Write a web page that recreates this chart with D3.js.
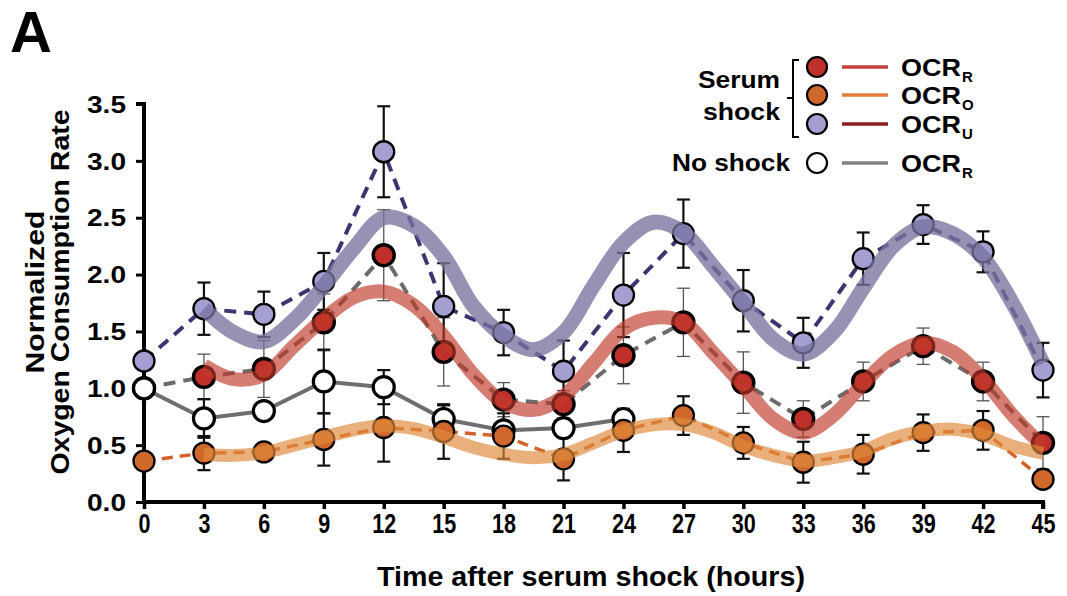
<!DOCTYPE html>
<html>
<head>
<meta charset="utf-8">
<script src="https://cdn.jsdelivr.net/npm/d3@7"></script>
<style>
  html, body { margin: 0; padding: 0; background: #fff; }
  svg { display: block; }
  text { font-family: "Liberation Sans", Arial, sans-serif; font-weight: bold; fill: #000; }
</style>
</head>
<body>
<svg id="chart" width="1067" height="596"></svg>
<script>
// ---------- data ----------
const hours = [0, 3, 6, 9, 12, 15, 18, 21, 24, 27, 30, 33, 36, 39, 42, 45];
const xTickLabels = ["0","3","6","9","12","15","18","21","24","27","30","33","36","39","42","45"];
const yTickValues = [0, 0.5, 1.0, 1.5, 2.0, 2.5, 3.0, 3.5];

// Serum shock OCR_R (red)
const ocrR    = [1.00, 1.10, 1.17, 1.58, 2.17, 1.32, 0.90, 0.86, 1.29, 1.58, 1.05, 0.73, 1.06, 1.37, 1.06, 0.52];
const ocrRErr = [0.00, 0.20, 0.25, 0.25, 0.40, 0.30, 0.15, 0.12, 0.25, 0.30, 0.27, 0.16, 0.17, 0.16, 0.17, 0.23];
// Serum shock OCR_O (orange)
const ocrO    = [0.36, 0.43, 0.44, 0.55, 0.655, 0.62, 0.58, 0.38, 0.63, 0.76, 0.52, 0.35, 0.42, 0.61, 0.63, 0.20];
const ocrOErr = [0.00, 0.15, 0.07, 0.23, 0.30, 0.24, 0.20, 0.19, 0.19, 0.17, 0.14, 0.18, 0.17, 0.16, 0.17, 0.00];
// Serum shock OCR_U (purple)
const ocrU    = [1.24, 1.70, 1.65, 1.94, 3.08, 1.72, 1.49, 1.15, 1.82, 2.36, 1.77, 1.40, 2.14, 2.44, 2.20, 1.16];
const ocrUErr = [0.00, 0.23, 0.20, 0.25, 0.40, 0.38, 0.20, 0.27, 0.37, 0.30, 0.27, 0.22, 0.23, 0.17, 0.18, 0.24];
// No shock OCR_R (white)
const noShockHours = [0, 3, 6, 9, 12, 15, 18, 21, 24];
const noShock      = [1.00, 0.735, 0.80, 1.06, 1.01, 0.73, 0.63, 0.65, 0.73];
const noShockErr   = [0.00, 0.17, 0.05, 0.28, 0.15, 0.12, 0.05, 0.00, 0.08];

// Fitted curves
const fitHours = [3, 4.5, 6, 7.5, 9, 10.5, 12, 13.5, 15, 16.5, 18, 19.5, 21, 22.5, 24, 25.5, 27, 28.5, 30, 31.5, 33, 34.5, 36, 37.5, 39, 40.5, 42, 43.5, 45];
const fitU = [1.70, 1.49, 1.41, 1.60, 1.90, 2.23, 2.50, 2.43, 2.16, 1.72, 1.46, 1.34, 1.49, 1.90, 2.28, 2.46, 2.37, 2.07, 1.75, 1.43, 1.30, 1.49, 1.88, 2.25, 2.42, 2.36, 2.15, 1.74, 1.22];
const fitR = [1.20, 1.08, 1.12, 1.37, 1.61, 1.80, 1.85, 1.73, 1.46, 1.12, 0.875, 0.81, 0.93, 1.22, 1.52, 1.62, 1.58, 1.31, 1.02, 0.73, 0.61, 0.76, 1.04, 1.29, 1.40, 1.32, 1.08, 0.76, 0.49];
const fitO = [0.42, 0.41, 0.435, 0.50, 0.57, 0.635, 0.67, 0.645, 0.57, 0.48, 0.42, 0.39, 0.42, 0.52, 0.625, 0.68, 0.68, 0.61, 0.49, 0.41, 0.36, 0.39, 0.45, 0.56, 0.62, 0.64, 0.59, 0.49, 0.43];

// ---------- layout ----------
const svg = d3.select("#chart");
const x = d3.scaleLinear().domain([0, 45]).range([144, 1043]);
const y = d3.scaleLinear().domain([0, 3.5]).range([502, 104]);
const FONT = '"Liberation Sans", Arial, sans-serif';

// Panel letter
svg.append("text").attr("x", 10).attr("y", 52).attr("font-size", 58).text("A");

// Axes
const yAxis = d3.axisLeft(y).tickValues(yTickValues).tickFormat(d3.format(".1f")).tickSize(8).tickPadding(10);
const gy = svg.append("g").attr("transform", `translate(${x(0)},0)`).call(yAxis);
gy.select(".domain").attr("stroke", "#000").attr("stroke-width", 4).attr("d", `M-8,${y(3.5)}H0V${y(0)+2}`);
gy.selectAll(".tick line").attr("stroke", "#000").attr("stroke-width", 3);
gy.selectAll(".tick text").attr("font-size", 23).attr("dy", "0.36em")
  .attr("textLength", 39).attr("lengthAdjust", "spacingAndGlyphs")
  .style("font-family", FONT).style("font-weight", "bold");

const xAxis = d3.axisBottom(x).tickValues(hours).tickFormat((d, i) => xTickLabels[i]).tickSize(7).tickPadding(8);
const gx = svg.append("g").attr("transform", `translate(0,${y(0)})`).call(xAxis);
gx.select(".domain").attr("stroke", "#000").attr("stroke-width", 4).attr("d", `M${x(0)-2},0H${x(45)}V7`);
gx.selectAll(".tick line").attr("stroke", "#000").attr("stroke-width", 3.5);
gx.selectAll(".tick text").attr("font-size", 27).attr("dy", null).attr("y", 31)
  .attr("textLength", (d, i) => xTickLabels[i].length * 12).attr("lengthAdjust", "spacingAndGlyphs")
  .style("font-family", FONT).style("font-weight", "bold");

// Axis titles
svg.append("text").attr("x", 591).attr("y", 586).attr("text-anchor", "middle").attr("font-size", 28)
  .attr("textLength", 428).attr("lengthAdjust", "spacingAndGlyphs")
  .text("Time after serum shock (hours)");
svg.append("text").attr("transform", "translate(44,292) rotate(-90)").attr("text-anchor", "middle").attr("font-size", 25)
  .attr("textLength", 163).attr("lengthAdjust", "spacingAndGlyphs").text("Normalized");
svg.append("text").attr("transform", "translate(69,292) rotate(-90)").attr("text-anchor", "middle").attr("font-size", 25)
  .attr("textLength", 365).attr("lengthAdjust", "spacingAndGlyphs").text("Oxygen Consumption Rate");

// ---------- helpers ----------
function errorBars(xs, ys, es, color, width) {
  const g = svg.append("g");
  xs.forEach((h, i) => {
    if (!es[i]) return;
    const cx = x(h), y1 = y(ys[i] + es[i]), y2 = y(ys[i] - es[i]);
    g.append("line").attr("x1", cx).attr("x2", cx).attr("y1", y1).attr("y2", y2).attr("stroke", color).attr("stroke-width", width);
    [y1, y2].forEach(yy => g.append("line").attr("x1", cx - 6.5).attr("x2", cx + 6.5).attr("y1", yy).attr("y2", yy).attr("stroke", color).attr("stroke-width", width));
  });
}
function polyline(xs, ys, color, width, dash) {
  const line = d3.line().x(d => x(d[0])).y(d => y(d[1]));
  svg.append("path").datum(xs.map((h, i) => [h, ys[i]])).attr("d", line)
    .attr("fill", "none").attr("stroke", color).attr("stroke-width", width)
    .attr("stroke-dasharray", dash || null);
}
function markers(xs, ys, fill, strokeW) {
  svg.append("g").selectAll("circle").data(xs.map((h, i) => [h, ys[i]])).join("circle")
    .attr("cx", d => x(d[0])).attr("cy", d => y(d[1])).attr("r", 10.5)
    .attr("fill", fill).attr("stroke", "#000").attr("stroke-width", strokeW);
}
function fitCurve(ys, color, opacity, width) {
  const line = d3.line().x(d => x(d[0])).y(d => y(d[1])).curve(d3.curveCatmullRom);
  svg.append("path").datum(fitHours.map((h, i) => [h, ys[i]])).attr("d", line)
    .attr("fill", "none").attr("stroke", color).attr("stroke-opacity", opacity).attr("stroke-width", width);
}

// ---------- marks ----------
errorBars(hours, ocrR, ocrRErr, "#555", 1.3);
errorBars(hours, ocrU, ocrUErr, "#111", 2.2);
errorBars(noShockHours, noShock, noShockErr, "#111", 2.2);
errorBars(hours, ocrO, ocrOErr, "#111", 2.2);

polyline(noShockHours, noShock, "#6e6e6e", 4);
polyline(hours, ocrR, "#6b6b6b", 4, "12,8");
polyline(hours, ocrU, "#3b3670", 4, "12,8");
polyline(hours, ocrO, "#d4622a", 3.5, "11,7");

markers(hours, ocrR, "#c0302b", 3.4);
markers(noShockHours, noShock, "#ffffff", 3.2);
markers(hours, ocrU, "#a39fd0", 2.3);
markers(hours, ocrO, "#d0682c", 2.3);

fitCurve(fitU, "#77739f", 0.78, 15);
fitCurve(fitR, "#c0392b", 0.66, 14);
fitCurve(fitO, "#e08a3c", 0.68, 13);

// ---------- legend ----------
const lg = svg.append("g");
lg.append("text").attr("x", 780).attr("y", 88).attr("text-anchor", "end").attr("font-size", 23)
  .attr("textLength", 82).attr("lengthAdjust", "spacingAndGlyphs").text("Serum");
lg.append("text").attr("x", 780).attr("y", 120).attr("text-anchor", "end").attr("font-size", 23)
  .attr("textLength", 77).attr("lengthAdjust", "spacingAndGlyphs").text("shock");
lg.append("path").attr("d", "M799,60H793V137H799M793,98H787").attr("fill", "none").attr("stroke", "#000").attr("stroke-width", 2);
lg.append("text").attr("x", 790).attr("y", 171).attr("text-anchor", "end").attr("font-size", 23)
  .attr("textLength", 118).attr("lengthAdjust", "spacingAndGlyphs").text("No shock");

const legendItems = [
  { fill: "#c0302b", line: "#c8403c", sub: "R", cy: 67 },
  { fill: "#d0682c", line: "#e07b39", sub: "O", cy: 95 },
  { fill: "#a39fd0", line: "#8b1f1f", sub: "U", cy: 124 },
  { fill: "#ffffff", line: "#808080", sub: "R", cy: 163 }
];
legendItems.forEach(d => {
  lg.append("circle").attr("cx", 817).attr("cy", d.cy).attr("r", 10).attr("fill", d.fill).attr("stroke", "#000").attr("stroke-width", 2.2);
  lg.append("line").attr("x1", 842).attr("x2", 888).attr("y1", d.cy).attr("y2", d.cy).attr("stroke", d.line).attr("stroke-width", 3.5);
  const t = lg.append("text").attr("y", d.cy + 9);
  t.append("tspan").attr("x", 901).attr("font-size", 23).attr("textLength", 60).attr("lengthAdjust", "spacingAndGlyphs").text("OCR");
  t.append("tspan").attr("x", 962).attr("dy", 6).attr("font-size", 15).text(d.sub);
});
</script>
</body>
</html>
